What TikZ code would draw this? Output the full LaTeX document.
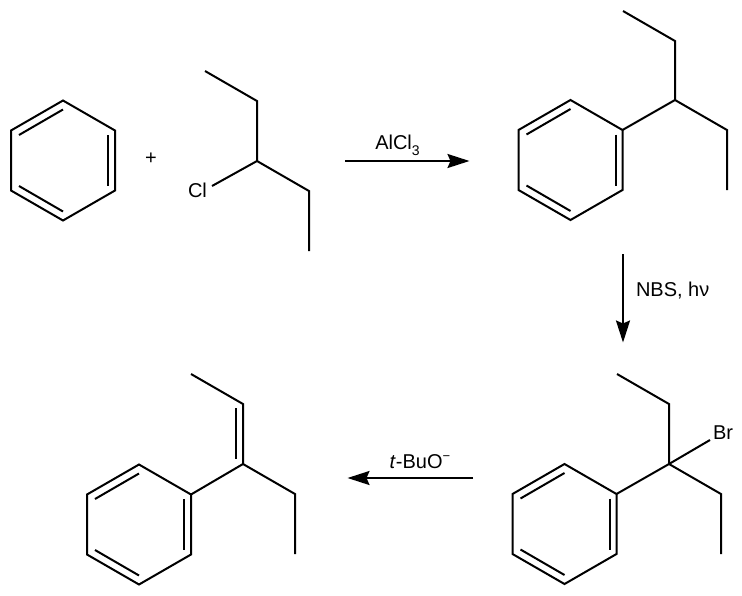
\documentclass[tikz,border=0pt]{standalone}
\usepackage{fontspec}
\setmainfont{Liberation Sans}
\usetikzlibrary{arrows.meta}
\tikzset{
  bond/.style={line width=2pt,line cap=butt,line join=miter,black},
  rxn/.style={line width=2pt,black,-{Stealth[length=22pt,width=14pt,inset=3pt]}},
  lbl/.style={inner sep=0pt,outer sep=0pt,text=black,font=\fontsize{20}{23}\selectfont}
}
\newcommand{\benzring}[3]{%
  \begin{scope}[shift={(#2,#3)}]
    \coordinate (#1t) at (0,-60);
    \coordinate (#1ur) at (52,-30);
    \coordinate (#1lr) at (52,30);
    \coordinate (#1b) at (0,60);
    \coordinate (#1ll) at (-52,30);
    \coordinate (#1ul) at (-52,-30);
    \coordinate (#1ia) at (-44,-25.5);
    \coordinate (#1ib) at (0,-51);
    \coordinate (#1ic) at (45,-25.5);
    \coordinate (#1id) at (45,25.5);
    \coordinate (#1ie) at (-44,25.5);
    \coordinate (#1if) at (0,51);
  \end{scope}
  \draw[bond] (#1t) -- (#1ur) -- (#1lr) -- (#1b) -- (#1ll) -- (#1ul) -- cycle;
  \draw[bond] (#1ia) -- (#1ib);
  \draw[bond] (#1ic) -- (#1id);
  \draw[bond] (#1ie) -- (#1if);
}
\begin{document}
\begin{tikzpicture}[x=1pt,y=-1pt]
\useasboundingbox (0,0) rectangle (742,595);
% benzene
\benzring{a}{63}{160.5}
\node[lbl] (plus) at (151,158.5) {+};
% chloride
\coordinate (c1) at (205,71);
\coordinate (c2) at (257,101);
\coordinate (c3) at (257,161);
\coordinate (c4) at (309,191);
\coordinate (c5) at (309,251);
\coordinate (c6) at (212,186);
\draw[bond] (c1) -- (c2) -- (c3) -- (c4) -- (c5);
\draw[bond] (c3) -- (c6);
\node[lbl] (cl) at (197.5,190) {Cl};
% arrow 1
\coordinate (r1s) at (345,161);
\coordinate (r1e) at (469.5,161);
\draw[rxn] (r1s) -- (r1e);
\node[lbl] (alcl) at (397.5,145) {AlCl\raisebox{-0.3em}{\fontsize{14}{16}\selectfont 3}};
% product 1
\benzring{b}{570.5}{160}
\coordinate (d1) at (623,11);
\coordinate (d2) at (675,41);
\coordinate (d3) at (675,100);
\coordinate (d4) at (727,130);
\coordinate (d5) at (727,190);
\draw[bond] (d1) -- (d2) -- (d3) -- (d4) -- (d5);
\draw[bond] (bur) -- (d3);
% arrow 2
\coordinate (r2s) at (623,254);
\coordinate (r2e) at (623,342.5);
\draw[rxn] (r2s) -- (r2e);
\node[lbl,anchor=west] (nbs) at (636,290.5) {NBS, hν};
% bromide
\benzring{e}{564.5}{524}
\coordinate (f1) at (617,374);
\coordinate (f2) at (669,404);
\coordinate (f3) at (669,464);
\coordinate (f4) at (721,494);
\coordinate (f5) at (721,554);
\coordinate (f6) at (710,440);
\draw[bond] (f1) -- (f2) -- (f3) -- (f4) -- (f5);
\draw[bond] (eur) -- (f3) -- (f6);
\node[lbl] (br) at (723,433) {Br};
% arrow 3
\coordinate (r3s) at (473,478);
\coordinate (r3e) at (347.5,478);
\draw[rxn] (r3s) -- (r3e);
\node[lbl] (tbu) at (420,462) {\textit{t}-BuO\raisebox{0.42em}{\fontsize{13}{15}\selectfont −}};
% alkene
\benzring{g}{139}{524.5}
\coordinate (h1) at (191,374);
\coordinate (h2) at (243,404);
\coordinate (h3) at (243,464);
\coordinate (h4) at (295,494);
\coordinate (h5) at (295,554);
\coordinate (h6) at (235.7,408);
\coordinate (h7) at (235.7,459);
\draw[bond] (h1) -- (h2) -- (h3) -- (h4) -- (h5);
\draw[bond] (gur) -- (h3);
\draw[bond] (h6) -- (h7);
\end{tikzpicture}
\end{document}
